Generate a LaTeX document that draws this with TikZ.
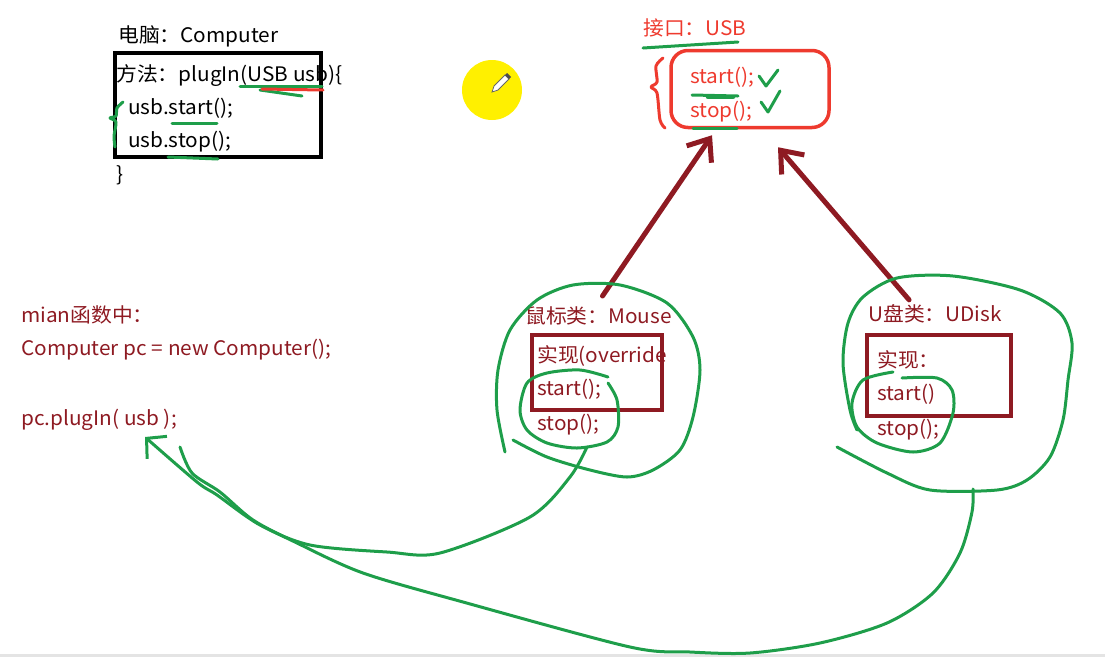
\documentclass[tikz,border=0pt]{standalone}
\usepackage{fontspec}
\newfontfamily\cjk[FakeStretch=1.04]{Noto Sans CJK SC}
\usepackage{tikz}
\usetikzlibrary{arrows.meta,positioning}
\definecolor{InkGreen}{HTML}{1E9E4A}
\definecolor{InkRed}{HTML}{EE3A2E}
\definecolor{ClassRed}{HTML}{8E1A22}
\definecolor{CursorYellow}{HTML}{FFF000}
\definecolor{ScreenEdge}{HTML}{E4E4E4}
\tikzset{
  codetext/.style={anchor=base west,inner sep=0pt,font=\cjk\fontsize{20}{24}\selectfont},
  pctext/.style={codetext,text=black},
  ifacetext/.style={codetext,text=InkRed},
  classtext/.style={codetext,text=ClassRed},
  methodbox/.style={draw=black,line width=4pt,inner sep=0pt,minimum width=206pt,minimum height=104pt},
  ifacebox/.style={draw=InkRed,line width=3.5pt,rounded corners=17pt,inner sep=0pt,minimum width=158pt,minimum height=77pt},
  classbox/.style={draw=ClassRed,line width=4pt,inner sep=0pt},
  implarrow/.style={draw=ClassRed,line width=5pt,line cap=round,-{Straight Barb[length=19pt,width=30pt]}},
  pen/.style={draw=InkGreen,line width=3pt,line cap=round,line join=round},
  redpen/.style={pen,draw=InkRed},
  callarrow/.style={pen,-{Straight Barb[length=14pt,width=30pt]}}
}

\begin{document}
\begin{tikzpicture}[x=1pt,y=-1pt]
  \useasboundingbox (0,0) rectangle (1105,657);
  \fill[ScreenEdge] (0,654) rectangle (1105,657);

  % Computer
  \node[methodbox] (methodframe) at (218,105) {};
  \node[pctext] (pcname) at (118,42) {电脑：Computer};
  \node[pctext] (method) at (116,81) {方法：plugIn(USB usb)\{};
  \node[pctext] (callstart) at (128,114) {usb.start();};
  \node[pctext] (callstop) at (128,147) {usb.stop();};
  \node[pctext] (methodend) at (116,181) {\}};
  \draw[pen] (240,86) -- (322,86);
  \draw[pen] (260,90) -- (302,96);
  \draw[redpen] (262,89) -- (323,90);
  \draw[pen] (172,123) -- (217,123);
  \draw[pen] (168,157) -- (218,159);
  \draw[pen] plot[smooth] coordinates {(123,102) (117,108) (116,116) (110,118) (116,122) (114,136) (115,147)};

  % interface
  \node[ifacetext] (ifacename) at (643,35) {接口：USB};
  \node[ifacebox] (usbbox) at (750,89) {};
  \node[ifacetext] (ifstart) at (690,83) {start();};
  \node[ifacetext] (ifstop) at (690,117) {stop();};
  \draw[pen] (643,48) -- (738,42);
  \draw[pen] (692,95) -- (738,96);
  \draw[pen,line width=4.5pt] (708,97) -- (733,97);
  \draw[pen] (693,128) -- (737,128);
  \draw[pen] (759,76) -- (766,86) -- (778,70);
  \draw[pen] (761,102) -- (768,112) -- (780,91);
  \draw[redpen] plot[smooth] coordinates {(663,58) (656,66) (657,82) (651,87) (657,93) (660,120) (665,128)};

  % cursor
  \node[circle,fill=CursorYellow,minimum size=60pt,inner sep=0pt] (cursor) at (492,90) {};
  \filldraw[fill=white,draw=black!60,line width=0.8pt]
    (492,92) -- (494,86) -- (505,75) -- (509,79) -- (498,90) -- cycle;
  \fill[black!70] (505,75) -- (507,73) -- (511,77) -- (509,79) -- cycle;

  % main
  \node[classtext] (mainname) at (21,322) {mian函数中：};
  \node[classtext] (newpc) at (21,355) {Computer pc = new Computer();};
  \node[classtext] (plugcall) at (21,425) {pc.plugIn( usb );};

  % Mouse
  \node[classtext] (mousename) at (525,323) {鼠标类：Mouse};
  \node[classbox,minimum width=130pt,minimum height=75pt] (mousebox) at (597,372) {};
  \node[classtext] (mouseimpl) at (537,362) {实现(override};
  \node[classtext] (mousestart) at (537,395) {start();};
  \node[classtext] (mousestop) at (537,430) {stop();};

  % UDisk
  \node[classtext] (udiskname) at (868,321) {U盘类：UDisk};
  \node[classbox,minimum width=144pt,minimum height=81pt] (udiskbox) at (939,375) {};
  \node[classtext] (udiskimpl) at (877,367) {实现：};
  \node[classtext] (udiskstart) at (877,400) {start()};
  \node[classtext] (udiskstop) at (877,435) {stop();};

  \draw[implarrow] ([xshift=4pt,yshift=10pt]mousename.north) -- ([xshift=-38pt,yshift=-6pt]usbbox.south);
  \draw[implarrow] ([xshift=-26pt,yshift=4pt]udiskname.north) -- ([xshift=28pt,yshift=-18pt]usbbox.south);

  % green loops
  \draw[pen] plot[smooth] coordinates {(505,452) (497,410) (498,370) (510,330) (537,300) (573,285) (620,285) (667,303) (693,337) (700,370) (693,417) (680,450) (653,470) (627,477) (590,470) (547,457) (513,440)};
  \draw[pen] plot[smooth] coordinates {(608,377) (580,370) (547,373) (527,383) (520,410) (527,430) (547,443) (577,448) (607,442) (618,427) (617,400) (608,383)};
  \draw[pen] plot[smooth] coordinates {(857,430) (850,410) (843,363) (848,323) (863,297) (897,278) (953,276) (1020,290) (1060,313) (1072,343) (1068,380) (1063,420) (1050,457) (1027,480) (997,490) (930,490) (887,473) (837,447)};
  \draw[pen] plot[smooth] coordinates {(893,372) (863,380) (852,403) (857,427) (877,443) (913,452) (940,443) (953,413) (952,390) (937,378) (902,378)};

  % calls back to plugIn
  \coordinate (usbarg) at (145,437);
  \coordinate (usbhook) at (180,447);
  \coordinate (mouseout) at (587,447);
  \coordinate (udiskout) at (973,489);
  \draw[callarrow] plot[smooth] coordinates {(mouseout) (570,477) (530,517) (440,553) (387,552) (310,545) (260,525) (217,495) (197,482) (usbarg)};
  \draw[pen] plot[smooth] coordinates {(udiskout) (972,512) (960,553) (933,593) (887,623) (820,643) (750,653) (690,652) (630,647) (463,602) (363,573) (297,543) (253,520) (220,492) (192,473) (usbhook)};
\end{tikzpicture}
\end{document}
